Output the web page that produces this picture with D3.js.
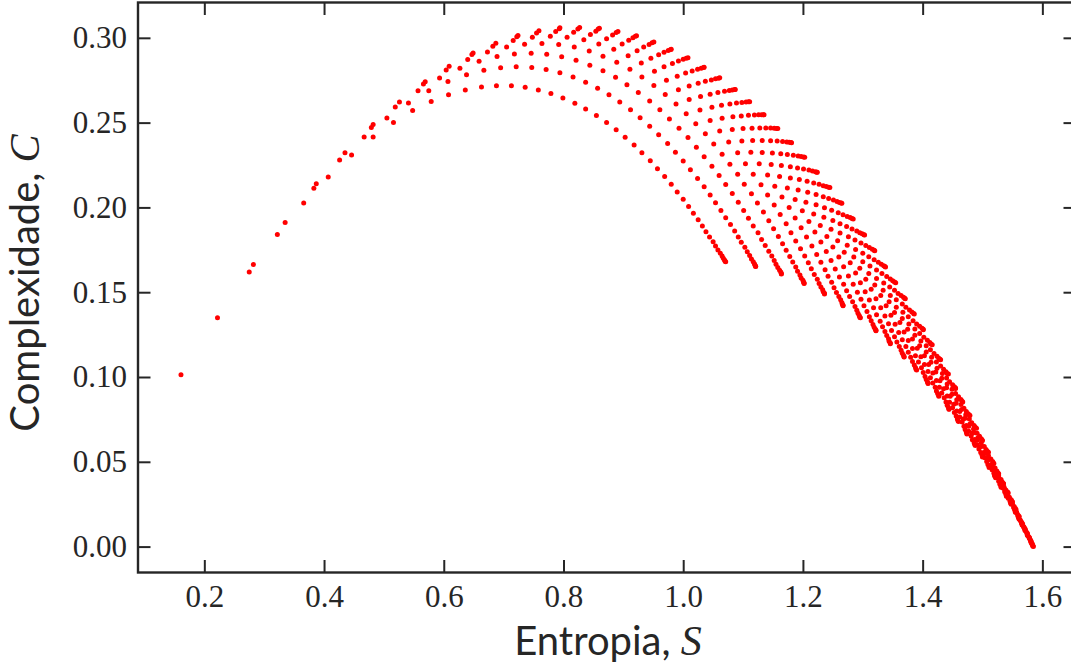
<!DOCTYPE html>
<html>
<head>
<meta charset="utf-8">
<script src="https://cdn.jsdelivr.net/npm/d3@7"></script>
<style>
  html, body { margin: 0; padding: 0; background: #fff; }
</style>
</head>
<body>
<div id="chart"></div>
<script>
// Entropia S (x1000), one row per arc (smallest share fixed: 1%, 2%, ... 33%)
var entropia = [
  [161,222,275,322,366,407,446,482,516,548,579,608,636,663,688,713,736,758,779,799,819,837,855,872,888,903,918,931,945,957,969,980,990,1000,1009,1017,1025,1032,1038,1044,1050,1054,1058,1062,1065,1067,1069,1070,1071],
  [282,335,383,426,467,505,541,575,607,638,667,695,721,747,771,794,816,837,857,876,894,912,928,944,959,974,987,1000,1012,1024,1035,1045,1054,1063,1071,1079,1086,1092,1097,1103,1107,1111,1114,1117,1119,1120,1121,1121],
  [387,435,479,519,557,593,627,659,689,718,746,772,797,821,844,866,887,906,925,944,961,977,993,1008,1022,1035,1048,1060,1071,1082,1092,1101,1109,1117,1125,1131,1137,1143,1148,1152,1155,1158,1161,1163,1164,1164],
  [482,526,566,604,640,673,705,735,764,792,818,843,866,889,911,931,951,970,988,1005,1021,1037,1051,1065,1078,1091,1102,1114,1124,1134,1143,1151,1159,1166,1172,1178,1183,1188,1191,1195,1197,1200,1201,1202,1202],
  [569,609,647,682,716,748,778,806,834,859,884,908,930,952,972,992,1010,1028,1045,1061,1076,1091,1104,1117,1130,1141,1152,1162,1172,1180,1188,1196,1203,1209,1214,1219,1224,1227,1230,1233,1234,1236,1236],
  [649,687,722,755,787,817,845,872,898,923,946,968,990,1010,1029,1048,1065,1082,1098,1113,1127,1141,1153,1165,1177,1187,1197,1206,1215,1223,1230,1237,1242,1248,1252,1256,1260,1263,1265,1266,1267,1267],
  [724,759,793,824,854,882,909,934,959,982,1004,1025,1045,1064,1083,1100,1116,1132,1147,1161,1174,1187,1199,1210,1220,1230,1239,1247,1254,1261,1268,1273,1278,1283,1287,1290,1292,1294,1295,1296],
  [794,827,858,888,916,943,968,992,1015,1037,1058,1078,1097,1115,1132,1149,1164,1179,1192,1205,1218,1229,1240,1250,1260,1268,1276,1284,1291,1297,1302,1307,1311,1314,1317,1319,1321,1322,1322],
  [860,891,920,948,975,1000,1024,1047,1069,1089,1109,1128,1146,1163,1179,1194,1208,1222,1235,1247,1258,1269,1279,1288,1296,1304,1311,1318,1323,1329,1333,1337,1340,1343,1344,1346,1346],
  [922,951,979,1005,1030,1054,1077,1098,1119,1138,1157,1174,1191,1207,1222,1236,1250,1262,1274,1285,1295,1305,1314,1322,1330,1337,1343,1348,1353,1357,1361,1364,1366,1368,1369,1369],
  [980,1008,1034,1059,1082,1105,1126,1146,1166,1184,1201,1218,1234,1248,1262,1276,1288,1300,1310,1320,1330,1339,1347,1354,1360,1366,1372,1376,1380,1383,1386,1388,1389,1390],
  [1035,1061,1086,1109,1131,1152,1173,1192,1210,1227,1243,1259,1273,1287,1300,1312,1323,1334,1344,1353,1362,1369,1376,1383,1388,1393,1398,1401,1404,1406,1408,1409,1409],
  [1087,1111,1134,1156,1177,1197,1216,1234,1251,1267,1282,1297,1310,1323,1335,1346,1356,1366,1375,1383,1391,1397,1403,1409,1413,1417,1421,1423,1425,1427,1427],
  [1135,1158,1180,1201,1221,1239,1257,1274,1290,1305,1319,1332,1345,1356,1367,1377,1387,1395,1403,1410,1417,1423,1428,1432,1436,1439,1441,1443,1444,1444],
  [1181,1203,1223,1243,1261,1279,1295,1311,1326,1340,1353,1366,1376,1387,1397,1406,1414,1422,1429,1435,1441,1445,1450,1453,1456,1458,1459,1460],
  [1224,1245,1264,1282,1299,1316,1331,1346,1359,1372,1384,1395,1406,1415,1424,1432,1440,1446,1452,1457,1462,1466,1469,1471,1473,1474,1474],
  [1265,1284,1302,1319,1335,1350,1364,1378,1390,1402,1413,1423,1433,1441,1449,1456,1462,1468,1473,1477,1481,1483,1486,1487,1488],
  [1303,1320,1337,1353,1368,1382,1395,1408,1419,1430,1440,1449,1457,1465,1471,1477,1483,1487,1491,1494,1497,1499,1500,1500],
  [1338,1355,1370,1385,1399,1412,1424,1435,1445,1455,1464,1472,1479,1486,1491,1496,1501,1504,1507,1509,1511,1511],
  [1371,1386,1401,1414,1427,1439,1450,1460,1469,1478,1485,1492,1499,1504,1509,1513,1516,1519,1520,1522,1522],
  [1401,1416,1429,1441,1453,1464,1473,1482,1491,1498,1505,1511,1516,1520,1524,1527,1529,1531,1531],
  [1430,1443,1455,1466,1476,1486,1495,1503,1510,1516,1522,1527,1531,1534,1537,1539,1540,1540],
  [1455,1467,1478,1488,1498,1506,1514,1521,1527,1532,1537,1540,1543,1546,1547,1548],
  [1479,1490,1499,1508,1517,1524,1531,1536,1541,1546,1549,1552,1554,1555,1555],
  [1500,1510,1518,1526,1533,1539,1545,1550,1553,1557,1559,1560,1561],
  [1519,1527,1535,1542,1548,1553,1557,1560,1563,1565,1566,1567],
  [1535,1543,1549,1555,1559,1563,1567,1569,1571,1571],
  [1550,1556,1561,1565,1569,1572,1574,1575,1575],
  [1561,1566,1570,1574,1576,1578,1579],
  [1571,1575,1578,1580,1581,1581],
  [1578,1581,1582,1583],
  [1583,1584,1584],
  [1585]
];

// Complexidade C (x10000), same rows as entropia
var complexidade = [
  [1013,1350,1619,1841,2026,2180,2309,2415,2501,2571,2624,2665,2693,2710,2718,2717,2708,2693,2672,2645,2614,2580,2542,2501,2458,2414,2368,2322,2275,2228,2182,2136,2091,2048,2006,1966,1927,1891,1857,1826,1798,1772,1749,1730,1713,1700,1690,1683,1680],
  [1663,1911,2113,2279,2415,2527,2616,2688,2742,2782,2809,2824,2829,2825,2813,2794,2769,2738,2703,2664,2621,2576,2528,2479,2428,2377,2325,2273,2222,2171,2122,2073,2027,1982,1939,1899,1861,1826,1794,1765,1739,1716,1696,1680,1668,1659,1653,1652],
  [2139,2323,2471,2592,2688,2763,2821,2862,2890,2905,2909,2903,2889,2868,2839,2806,2767,2724,2677,2628,2576,2522,2467,2412,2355,2299,2243,2188,2135,2082,2031,1982,1936,1891,1850,1811,1775,1742,1713,1687,1665,1646,1630,1619,1611,1608],
  [2489,2622,2728,2810,2872,2917,2946,2962,2967,2961,2946,2923,2892,2856,2815,2769,2719,2666,2610,2553,2494,2435,2374,2314,2254,2195,2137,2081,2026,1973,1922,1874,1829,1786,1747,1711,1678,1649,1624,1602,1584,1570,1560,1554,1552],
  [2741,2832,2901,2951,2984,3003,3009,3003,2988,2964,2933,2895,2851,2803,2750,2694,2636,2575,2513,2450,2386,2322,2258,2195,2134,2073,2014,1958,1903,1851,1802,1756,1713,1674,1638,1605,1577,1552,1531,1515,1502,1494,1489],
  [2911,2968,3006,3028,3037,3033,3019,2995,2963,2924,2879,2829,2774,2716,2654,2591,2526,2459,2392,2325,2257,2191,2125,2061,1999,1938,1880,1825,1772,1722,1676,1633,1594,1558,1526,1498,1475,1455,1440,1429,1423,1420],
  [3013,3041,3053,3052,3039,3017,2985,2946,2900,2848,2792,2732,2668,2602,2534,2465,2394,2324,2253,2183,2114,2047,1981,1917,1855,1796,1740,1687,1637,1590,1547,1509,1474,1443,1416,1394,1376,1362,1353,1349],
  [3059,3061,3052,3031,3000,2961,2915,2863,2805,2744,2678,2610,2539,2467,2394,2321,2247,2174,2102,2031,1961,1894,1829,1766,1707,1650,1596,1547,1500,1458,1420,1386,1356,1331,1310,1294,1282,1275,1273],
  [3056,3037,3009,2971,2925,2873,2815,2752,2685,2615,2543,2469,2393,2317,2240,2164,2089,2015,1942,1871,1803,1736,1673,1613,1556,1503,1454,1408,1367,1329,1297,1268,1244,1225,1211,1201,1196],
  [3012,2976,2931,2880,2821,2758,2690,2619,2545,2468,2391,2312,2233,2154,2076,1998,1923,1849,1777,1707,1641,1577,1517,1461,1408,1359,1314,1274,1238,1206,1180,1157,1140,1128,1120,1118],
  [2933,2883,2825,2762,2693,2621,2546,2468,2388,2307,2226,2144,2063,1983,1904,1827,1752,1680,1610,1543,1480,1420,1364,1311,1263,1220,1180,1146,1116,1091,1071,1056,1046,1041],
  [2826,2764,2695,2623,2546,2467,2386,2303,2220,2136,2052,1969,1888,1808,1730,1654,1581,1511,1444,1381,1322,1266,1215,1168,1125,1088,1055,1027,1003,985,972,965,962],
  [2696,2623,2546,2466,2384,2300,2214,2128,2043,1957,1873,1790,1709,1631,1555,1481,1412,1345,1282,1224,1169,1119,1073,1032,996,965,939,918,902,891,886],
  [2546,2466,2383,2297,2210,2123,2035,1947,1861,1775,1692,1610,1531,1455,1382,1312,1246,1184,1126,1073,1024,980,940,906,877,853,834,821,812,810],
  [2382,2296,2208,2119,2029,1940,1851,1763,1677,1592,1511,1431,1355,1283,1213,1148,1087,1030,978,931,888,851,819,791,770,753,742,737],
  [2207,2117,2026,1934,1844,1754,1665,1578,1493,1411,1332,1257,1185,1116,1052,992,937,886,840,800,764,734,709,690,676,667,664],
  [2025,1932,1839,1747,1656,1567,1480,1395,1313,1235,1160,1088,1021,958,899,845,797,753,714,680,652,630,613,602,596],
  [1838,1744,1651,1560,1470,1383,1299,1217,1139,1065,994,928,866,809,757,710,668,632,600,575,555,541,532,529],
  [1649,1556,1464,1375,1288,1204,1123,1046,972,903,838,778,723,672,627,588,553,524,501,484,472,467],
  [1462,1371,1281,1195,1111,1031,955,883,815,752,693,640,591,549,511,479,453,432,418,409,406],
  [1279,1190,1104,1021,942,867,797,730,669,612,561,515,474,439,409,386,368,356,350],
  [1102,1017,935,857,783,714,650,590,536,486,442,404,371,345,324,309,300,297],
  [932,852,776,704,636,573,516,463,416,375,339,309,285,267,255,249],
  [773,698,628,562,501,446,396,351,312,279,252,231,215,206,203],
  [625,557,493,434,381,334,291,255,225,200,182,170,163],
  [490,429,372,322,276,237,203,176,154,139,129,126],
  [370,316,267,225,188,157,133,114,102,95],
  [264,219,179,145,117,95,80,70,67],
  [176,139,108,83,64,52,45],
  [105,77,55,39,30,26],
  [52,33,20,14],
  [17,7,4],
  [1]
];

var xTicks = [0.2, 0.4, 0.6, 0.8, 1.0, 1.2, 1.4, 1.6];
var yTicks = [0.00, 0.05, 0.10, 0.15, 0.20, 0.25, 0.30];

var width = 1071, height = 671;
var plotLeft = 138, plotRight = 1076, plotTop = 2.5, plotBottom = 572.5;
var ink = "#262626";

// flat table of points for d3
var pontos = [];
entropia.forEach(function(arco, i) {
  arco.forEach(function(s, j) {
    pontos.push({S: s / 1000, C: complexidade[i][j] / 10000});
  });
});

var svg = d3.select("#chart")
  .append("svg")
  .attr("width", width)
  .attr("height", height)
  .style("display", "block")
  .style("background", "#fff");

var x = d3.scaleLinear()
  .domain([0.0892, 1.6562])
  .range([plotLeft, plotRight]);

var y = d3.scaleLinear()
  .domain([-0.01528, 0.32083])
  .range([plotBottom, plotTop]);

svg.append("g")
  .selectAll("circle")
  .data(pontos)
  .enter().append("circle")
    .attr("cx", function(d) { return x(d.S); })
    .attr("cy", function(d) { return y(d.C); })
    .attr("r", 2.5)
    .attr("fill", "#ff0000");

// axes: inward ticks on all four sides
function estilo(g) {
  g.select(".domain").remove();
  g.selectAll(".tick line").attr("stroke", ink).attr("stroke-width", 2);
  g.selectAll(".tick text")
    .attr("fill", ink)
    .attr("font-family", "'Liberation Serif', 'Times New Roman', serif")
    .attr("font-size", 31);
}

svg.append("g")
  .attr("transform", "translate(0," + plotBottom + ")")
  .call(d3.axisBottom(x).tickValues(xTicks).tickSize(-12.5).tickPadding(12.5).tickFormat(d3.format(".1f")))
  .call(estilo);

svg.append("g")
  .attr("transform", "translate(0," + plotTop + ")")
  .call(d3.axisTop(x).tickValues(xTicks).tickSize(-12.5).tickFormat(""))
  .call(estilo);

svg.append("g")
  .attr("transform", "translate(" + plotLeft + ",0)")
  .call(d3.axisLeft(y).tickValues(yTicks).tickSize(-12.5).tickPadding(11).tickFormat(d3.format(".2f")))
  .call(estilo);

svg.append("g")
  .attr("transform", "translate(" + plotRight + ",0)")
  .call(d3.axisRight(y).tickValues(yTicks).tickSize(-12.5).tickFormat(""))
  .call(estilo);

svg.append("rect")
  .attr("x", plotLeft)
  .attr("y", plotTop)
  .attr("width", plotRight - plotLeft)
  .attr("height", plotBottom - plotTop)
  .attr("fill", "none")
  .attr("stroke", ink)
  .attr("stroke-width", 2.4);

// axis titles
var xt = svg.append("text")
  .attr("x", 608)
  .attr("y", 655)
  .attr("text-anchor", "middle")
  .attr("fill", ink)
  .attr("font-family", "Lato, 'Noto Sans', sans-serif")
  .attr("font-size", 40);
xt.append("tspan").text("Entropia, ");
xt.append("tspan")
  .attr("font-family", "'Liberation Serif', serif")
  .attr("font-style", "italic")
  .attr("font-size", 42)
  .text("S");

var yt = svg.append("text")
  .attr("transform", "translate(39,283) rotate(-90)")
  .attr("text-anchor", "middle")
  .attr("fill", ink)
  .attr("font-family", "Lato, 'Noto Sans', sans-serif")
  .attr("font-size", 40);
yt.append("tspan").text("Complexidade, ");
yt.append("tspan")
  .attr("font-family", "'Liberation Serif', serif")
  .attr("font-style", "italic")
  .attr("font-size", 42)
  .text("C");
</script>
</body>
</html>
